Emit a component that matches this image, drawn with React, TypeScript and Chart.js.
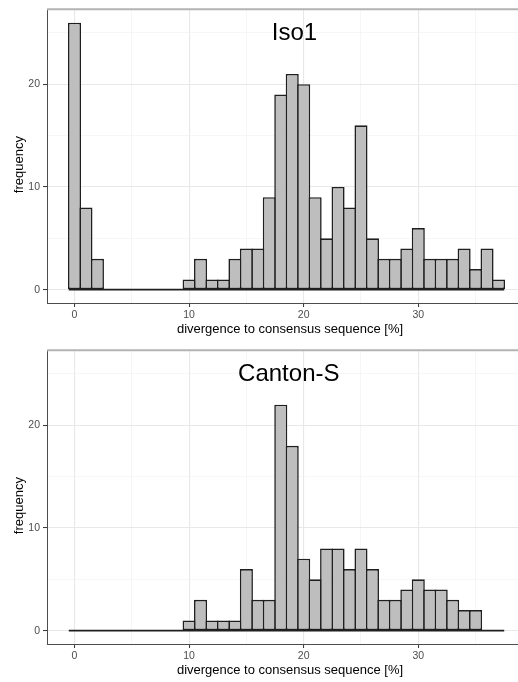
import React, { useEffect, useRef } from "react";
import { Chart, registerables } from "chart.js";

Chart.register(...registerables);

// ---- data ----
const binCenters = [0, 1, 2, 3, 4, 5, 6, 7, 8, 9, 10, 11, 12, 13, 14, 15, 16, 17, 18, 19, 20, 21, 22, 23, 24, 25, 26, 27, 28, 29, 30, 31, 32, 33, 34, 35, 36, 37];
const iso1Counts = [26, 8, 3, 0, 0, 0, 0, 0, 0, 0, 1, 3, 1, 1, 3, 4, 4, 9, 19, 21, 20, 9, 5, 10, 8, 16, 5, 3, 3, 4, 6, 3, 3, 3, 4, 2, 4, 1];
const cantonCounts = [0, 0, 0, 0, 0, 0, 0, 0, 0, 0, 1, 3, 1, 1, 1, 6, 3, 3, 22, 18, 7, 5, 8, 8, 6, 8, 6, 3, 3, 4, 5, 4, 4, 3, 2, 2, 0, 0];
const panelTitles = ["Iso1", "Canton-S"];
const xTickLabels = ["0", "10", "20", "30"];
const yTickLabels = ["0", "10", "20"];
const xAxisTitle = "divergence to consensus sequence [%]";
const yAxisTitle = "frequency";

const FONT = "'Liberation Sans', Arial, Helvetica, sans-serif";
const BIN_WIDTH = 1;
const xLo = binCenters[0] - BIN_WIDTH / 2;
const xHi = binCenters[binCenters.length - 1] + BIN_WIDTH / 2;
const xPad = (xHi - xLo) * 0.05;
const yMaxData = Math.max(...iso1Counts, ...cantonCounts);
const yPad = yMaxData * 0.05;
const BAR_LINE = 1.6;
const EDGE = "#1f1f1f";

function makeChart(canvas: HTMLCanvasElement, counts: number[], title: string, titleX: number, xAxisHeight: number) {
  const overlay = {
    id: "overlay",
    afterDraw(chart: any) {
      const { ctx, chartArea, scales } = chart;
      ctx.save();
      // top panel border
      ctx.strokeStyle = "#b3b3b3";
      ctx.lineWidth = 2;
      ctx.beginPath();
      ctx.moveTo(chartArea.left, chartArea.top);
      ctx.lineTo(chartArea.right + 10, chartArea.top);
      ctx.stroke();
      // panel title
      ctx.fillStyle = "#000";
      ctx.font = `24px ${FONT}`;
      ctx.textAlign = "center";
      ctx.textBaseline = "middle";
      ctx.fillText(title, scales.x.getPixelForValue(titleX), scales.y.getPixelForValue(25));
      // axis titles
      ctx.font = `13px ${FONT}`;
      ctx.fillText(xAxisTitle, (chartArea.left + chartArea.right) / 2 + 3.5, chartArea.bottom + 26);
      ctx.translate(19, (chartArea.top + chartArea.bottom) / 2 + 8.5);
      ctx.rotate(-Math.PI / 2);
      ctx.fillText(yAxisTitle, 0, 0);
      ctx.restore();
    },
  };

  const gridColor = (c: any) => (c.tick && c.tick.value % 10 === 0 ? "#e8e8e8" : "#f2f2f2");
  const gridWidth = (c: any) => (c.tick && c.tick.value % 10 === 0 ? 1.1 : 0.7);
  const tickColor = (c: any) => (c.tick && c.tick.value % 10 === 0 ? "#333333" : "rgba(0,0,0,0)");

  return new Chart(canvas, {
    type: "bar",
    data: {
      datasets: [
        {
          type: "bar",
          data: binCenters.map((x, i) => ({ x, y: counts[i] })),
          backgroundColor: "#bebebe",
          borderColor: EDGE,
          borderWidth: BAR_LINE,
          borderSkipped: false,
          barPercentage: 1.14,
          categoryPercentage: 1,
          grouped: false,
          order: 1,
        } as any,
        {
          type: "line",
          data: [
            { x: xLo, y: 0 },
            { x: xHi, y: 0 },
          ],
          borderColor: EDGE,
          borderWidth: BAR_LINE,
          pointRadius: 0,
          order: 2,
        } as any,
      ],
    },
    options: {
      responsive: false,
      maintainAspectRatio: false,
      animation: false,
      layout: { padding: { top: 8, right: 4, left: 0, bottom: 0 } },
      plugins: { legend: { display: false }, tooltip: { enabled: false }, title: { display: false } },
      scales: {
        x: {
          type: "linear",
          offset: false,
          min: xLo - xPad,
          max: xHi + xPad,
          afterFit: (s: any) => {
            s.height = xAxisHeight;
          },
          ticks: {
            stepSize: 5,
            includeBounds: false,
            autoSkip: false,
            maxRotation: 0,
            padding: 2,
            color: "#4d4d4d",
            font: { size: 10.5, family: FONT },
            callback: (v: any) => (xTickLabels.includes(String(v)) ? String(v) : ""),
          },
          grid: { offset: false, color: gridColor, lineWidth: gridWidth, tickColor, tickLength: 4, tickWidth: 1 },
          border: { display: true, color: "#4d4d4d", width: 1 },
        },
        y: {
          type: "linear",
          min: -yPad,
          max: yMaxData + yPad,
          afterFit: (s: any) => {
            s.width = 47;
          },
          ticks: {
            stepSize: 5,
            includeBounds: false,
            autoSkip: false,
            padding: 3,
            color: "#4d4d4d",
            font: { size: 10.5, family: FONT },
            callback: (v: any) => (yTickLabels.includes(String(v)) ? String(v) : ""),
          },
          grid: { color: gridColor, lineWidth: gridWidth, tickColor, tickLength: 4, tickWidth: 1 },
          border: { display: true, color: "#4d4d4d", width: 1 },
        },
      },
    } as any,
    plugins: [overlay],
  });
}

export default function App() {
  const c1 = useRef<HTMLCanvasElement>(null);
  const c2 = useRef<HTMLCanvasElement>(null);
  useEffect(() => {
    const a = makeChart(c1.current!, iso1Counts, panelTitles[0], 19.2, 37);
    const b = makeChart(c2.current!, cantonCounts, panelTitles[1], 18.7, 38);
    return () => {
      a.destroy();
      b.destroy();
    };
  }, []);
  return (
    <div style={{ position: "absolute", left: 0, top: 0, width: 518, height: 682, overflow: "hidden", background: "#fff" }}>
      <canvas ref={c1} width={530} height={340} style={{ position: "absolute", left: 0, top: 0, width: 530, height: 340 }} />
      <canvas ref={c2} width={530} height={341} style={{ position: "absolute", left: 0, top: 341, width: 530, height: 341 }} />
    </div>
  );
}
